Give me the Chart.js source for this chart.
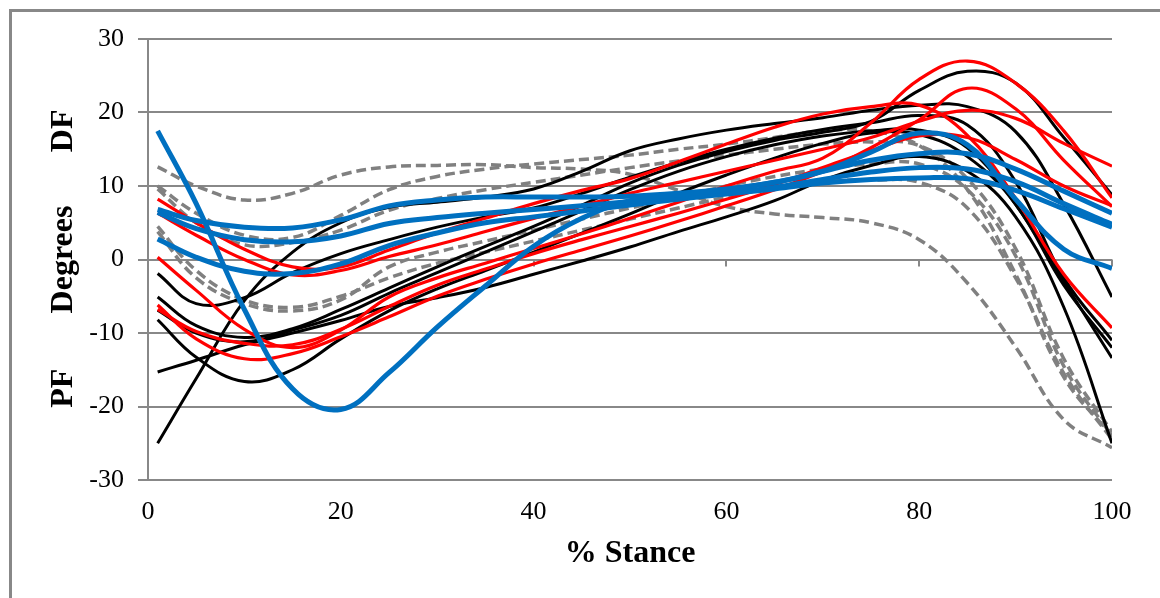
<!DOCTYPE html>
<html>
<head>
<meta charset="utf-8">
<script src="https://cdn.jsdelivr.net/npm/chart.js@4.4.1/dist/chart.umd.min.js"></script>
<style>
  html, body { margin: 0; padding: 0; background: #fff; }
  #wrap { position: relative; width: 1160px; height: 598px; overflow: hidden; }
</style>
</head>
<body>
<div id="wrap"><canvas id="ankleChart" width="1160" height="598"></canvas></div>
<script>
// % of stance where each trial is sampled
const stance = [1, 5, 10, 15, 20, 25, 30, 35, 40, 45, 50, 55, 60, 65, 70, 75, 80, 85, 90, 95, 100];

// ankle angle (deg), + = dorsiflexion, - = plantarflexion
const grayTrials = [
  [12.6, 10.0, 8.1, 9.0, 11.5, 12.6, 12.8, 12.9, 12.5, 12.3, 11.6, 9.4, 7.2, 6.2, 5.7, 5.0, 2.7, -3.2, -11.9, -21.8, -25.6],
  [10.0, 6.3, 3.3, 3.0, 6.0, 9.5, 11.3, 12.3, 13.0, 13.6, 14.2, 15.0, 15.7, 16.6, 17.5, 17.5, 15.5, 9.5, -2.0, -16.0, -24.0],
  [9.6, 5.0, 2.0, 2.3, 4.0, 6.7, 8.3, 9.5, 10.5, 11.5, 12.5, 13.4, 14.2, 15.0, 15.7, 16.0, 15.5, 11.0, 1.5, -13.5, -23.5],
  [4.5, -1.5, -5.5, -6.5, -5.0, -2.5, -0.5, 1.0, 2.5, 4.0, 5.5, 7.0, 8.5, 9.8, 10.6, 10.8, 10.5, 7.0, -2.5, -15.5, -24.5],
  [3.8, -2.5, -6.0, -7.0, -5.5, -1.0, 1.0, 2.5, 4.0, 5.5, 7.0, 8.5, 10.0, 11.3, 12.3, 13.0, 13.0, 9.5, 0.5, -14.5, -24.0]
];
const blackTrials = [
  [-25.0, -16.2, -5.6, 1.0, 5.0, 7.1, 7.8, 8.5, 9.6, 12.0, 14.8, 16.4, 17.6, 18.5, 19.3, 20.3, 21.0, 20.8, 17.4, 7.5, -5.1],
  [-1.9, -6.0, -5.2, -1.8, 0.8, 2.7, 4.4, 5.8, 7.0, 9.0, 11.2, 13.2, 15.0, 16.5, 17.7, 18.6, 19.6, 18.3, 10.6, -2.5, -11.0],
  [-5.1, -9.0, -10.6, -9.4, -6.8, -3.9, -1.0, 1.8, 4.5, 7.4, 10.4, 12.8, 14.7, 16.2, 17.3, 18.8, 23.0, 25.6, 24.0, 16.6, 8.8],
  [-6.9, -10.0, -11.2, -9.6, -7.6, -4.6, -1.8, 1.0, 3.8, 6.6, 9.5, 12.0, 14.0, 15.6, 16.8, 17.5, 17.6, 15.2, 7.5, -3.0, -13.4],
  [-8.2, -13.3, -16.6, -15.0, -10.8, -7.0, -4.0, -1.5, 1.0, 3.6, 6.2, 9.0, 11.5, 13.8, 15.8, 17.2, 17.0, 14.0, 7.5, -3.5, -12.0],
  [-15.3, -13.7, -11.6, -10.0, -8.3, -6.4, -5.2, -3.8, -2.0, -0.2, 1.7, 3.8, 5.8, 8.0, 10.8, 12.8, 14.0, 12.0, 5.8, -6.5, -25.0]
];
const redTrials = [
  [8.2, 5.0, 1.4, -1.0, -1.0, 1.3, 3.6, 5.6, 7.6, 9.4, 11.0, 13.3, 15.7, 18.0, 19.8, 20.8, 21.0, 16.9, 8.3, -2.0, -9.3],
  [6.3, 3.3, 0.0, -2.1, -1.5, 0.4, 2.0, 3.8, 5.6, 7.3, 9.0, 10.5, 12.0, 13.5, 15.0, 16.6, 18.8, 20.3, 19.2, 15.8, 12.7],
  [0.3, -4.2, -9.5, -12.0, -9.6, -5.1, -2.5, -0.5, 1.5, 3.5, 5.6, 7.8, 10.0, 12.0, 13.8, 18.6, 24.5, 27.0, 24.0, 17.5, 8.4],
  [-6.2, -10.8, -13.5, -12.8, -10.5, -7.8, -5.0, -2.7, -0.6, 1.3, 3.2, 5.2, 7.3, 9.5, 12.0, 15.2, 19.0, 23.3, 20.5, 13.5, 7.2],
  [-6.8, -9.8, -11.4, -11.6, -9.5, -6.4, -3.5, -1.3, 0.8, 2.7, 4.5, 6.3, 8.2, 10.2, 12.5, 14.8, 16.8, 16.6, 13.6, 10.0, 7.3]
];
const blueTrials = [
  [17.5, 7.6, -6.8, -17.6, -20.4, -15.4, -9.2, -3.6, 1.8, 5.6, 8.0, 8.8, 9.5, 10.5, 12.0, 14.6, 17.2, 15.6, 8.2, 1.4, -1.2],
  [6.8, 5.3, 4.4, 4.3, 5.4, 7.3, 8.1, 8.5, 8.5, 8.5, 8.6, 9.0, 9.6, 10.5, 12.0, 13.5, 14.4, 14.4, 12.3, 9.3, 6.3],
  [6.4, 4.2, 2.7, 2.4, 3.2, 4.9, 5.7, 6.3, 6.8, 7.3, 7.9, 8.4, 9.0, 9.8, 10.9, 11.9, 12.5, 12.3, 10.6, 7.6, 4.8],
  [2.8, 0.3, -1.6, -1.9, -0.6, 1.9, 3.6, 5.0, 5.8, 6.6, 7.4, 8.2, 8.9, 9.6, 10.4, 10.9, 11.1, 11.0, 9.4, 6.9, 4.4]
];

const yTicks = [-30, -20, -10, 0, 10, 20, 30];
const xTicks = [0, 20, 40, 60, 80, 100];
const yTitleParts = ['PF', 'Degrees', 'DF'];

const serif = '"Liberation Serif", "Times New Roman", serif';
const axisGray = '#888888';

function toPoints(vals) {
    return vals.map(function (v, i) { return { x: stance[i], y: v }; });
}

function makeSets(group, color, width, dash, order) {
    return group.map(function (vals) {
        return {
            data: toPoints(vals),
            borderColor: color,
            borderWidth: width,
            borderDash: dash,
            order: order
        };
    });
}

var datasets = []
    .concat(makeSets(grayTrials, '#808080', 3.5, [10, 5], 3))
    .concat(makeSets(blackTrials, '#000000', 3, [], 2))
    .concat(makeSets(redTrials, '#ff0000', 3.2, [], 1))
    .concat(makeSets(blueTrials, '#0070c0', 5, [], 0));

// white page with the outer chart frame
var framePlugin = {
    id: 'frame',
    beforeDraw: function (chart) {
        var ctx = chart.ctx;
        ctx.save();
        ctx.fillStyle = '#fff';
        ctx.fillRect(0, 0, chart.width, chart.height);
        ctx.strokeStyle = axisGray;
        ctx.lineWidth = 3;
        ctx.strokeRect(10.5, 10.5, 1300, 800);
        ctx.restore();
    }
};

// horizontal axis crosses at 0, so its tick marks sit on the zero line
var zeroTicksPlugin = {
    id: 'zeroTicks',
    beforeDatasetsDraw: function (chart) {
        var ctx = chart.ctx;
        var xs = chart.scales.x, ys = chart.scales.y;
        var y0 = ys.getPixelForValue(0);
        ctx.save();
        ctx.strokeStyle = axisGray;
        ctx.lineWidth = 2;
        xTicks.forEach(function (v) {
            var px = Math.round(xs.getPixelForValue(v));
            ctx.beginPath();
            ctx.moveTo(px, y0);
            ctx.lineTo(px, y0 + 7);
            ctx.stroke();
        });
        ctx.restore();
    }
};

// vertical axis title in three pieces: PF ... Degrees ... DF
var yTitlePlugin = {
    id: 'yTitle',
    afterDraw: function (chart) {
        var ctx = chart.ctx;
        var ys = chart.scales.y;
        var centers = [-17.5, 0, 17.5];
        ctx.save();
        ctx.fillStyle = '#000';
        ctx.font = 'bold 32px ' + serif;
        ctx.textAlign = 'center';
        ctx.textBaseline = 'alphabetic';
        yTitleParts.forEach(function (txt, i) {
            ctx.save();
            ctx.translate(72, ys.getPixelForValue(centers[i]));
            ctx.rotate(-Math.PI / 2);
            ctx.fillText(txt, 0, 0);
            ctx.restore();
        });
        ctx.restore();
    }
};

var ctx = document.getElementById('ankleChart').getContext('2d');
var ankleChart = new Chart(ctx, {
    type: 'line',
    data: { datasets: datasets },
    plugins: [framePlugin, zeroTicksPlugin, yTitlePlugin],
    options: {
        responsive: false,
        animation: false,
        devicePixelRatio: 1,
        layout: { padding: { top: 39, right: 48, bottom: 0, left: 0 } },
        plugins: {
            legend: { display: false },
            tooltip: { enabled: false }
        },
        elements: {
            point: { radius: 0 },
            line: { tension: 0.4, fill: false }
        },
        scales: {
            x: {
                type: 'linear',
                min: 0,
                max: 100,
                afterBuildTicks: function (s) { s.ticks = xTicks.map(function (v) { return { value: v }; }); },
                afterFit: function (s) { s.height = 118; },
                grid: { display: false, drawTicks: false },
                border: { display: false },
                ticks: {
                    color: '#000',
                    font: { family: serif, size: 26 },
                    padding: 17,
                    maxRotation: 0
                },
                title: {
                    display: true,
                    text: '% Stance',
                    color: '#000',
                    font: { family: serif, size: 32, weight: 'bold' },
                    padding: { top: 0, bottom: 25 }
                }
            },
            y: {
                min: -30,
                max: 30,
                afterBuildTicks: function (s) { s.ticks = yTicks.map(function (v) { return { value: v }; }); },
                afterFit: function (s) { s.width = 148; },
                grid: { color: axisGray, lineWidth: 2, tickLength: 10 },
                border: { color: axisGray, width: 2 },
                ticks: {
                    color: '#000',
                    font: { family: serif, size: 26 },
                    padding: 14
                }
            }
        }
    }
});
</script>
</body>
</html>
